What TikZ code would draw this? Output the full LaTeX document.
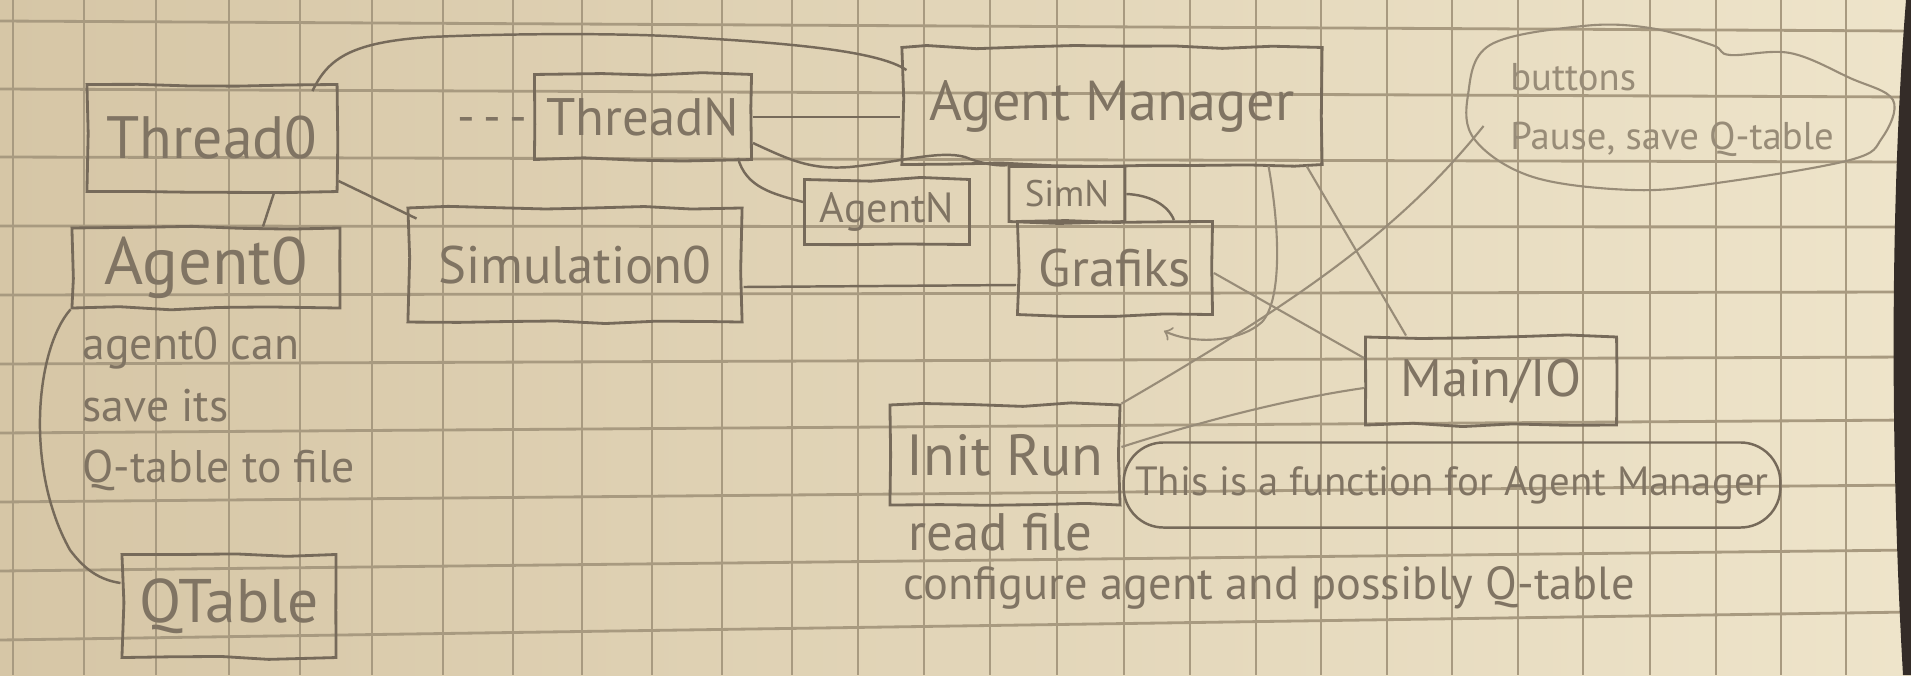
\documentclass[tikz,border=0pt]{standalone}
\usepackage{fontspec}
\setmainfont{PT Sans}
\usetikzlibrary{shapes,arrows,calc,decorations.pathmorphing}

\definecolor{paperL}{RGB}{214,198,166}
\definecolor{paperR}{RGB}{238,228,202}
\definecolor{gridcol}{RGB}{168,154,128}
\definecolor{pencil}{RGB}{118,106,90}
\definecolor{pentext}{RGB}{128,116,99}
\definecolor{faint}{RGB}{152,140,120}
\definecolor{edgecol}{RGB}{52,44,40}

\tikzset{
  box/.style={draw=pencil, line width=0.8pt, decorate,
    decoration={random steps, segment length=14pt, amplitude=0.6pt},
    text=pentext, inner sep=0pt},
  link/.style={draw=pencil, line width=0.7pt},
  faintlink/.style={draw=faint, line width=0.6pt},
  note/.style={text=pentext, align=left, inner sep=0pt},
}

\begin{document}
\begin{tikzpicture}[x=0.01cm, y=-0.01cm]
  \pgfmathsetseed{11}
  % Paper
  \useasboundingbox (0,0) rectangle (1911,675);
  \shade[left color=paperL, right color=paperR] (0,0) rectangle (1911,675);
  \foreach \gx in {13,84,156,229,300,372,443,513,582,652,722,792,858,924,990,1057,1124,1190,1256,1321,1387,1452,1518,1583,1650,1716,1781,1846}
    \draw[gridcol, line width=0.45pt] (\gx,0) -- (\gx,675);
  \foreach \yl/\yr in {21/31,89/97,157/162,226/227,295/292,364/357,433/420,502/485,571/550,640/612}
    \draw[gridcol, line width=0.8pt] (0,\yl) -- (1911,\yr);
  \fill[edgecol] (1906,0) .. controls (1890,200) and (1890,450) .. (1903,675) -- (1911,675) -- (1911,0) -- cycle;

  % Nodes
  \node[box, minimum width=2.5cm, minimum height=1.07cm, font=\fontsize{17}{20}\selectfont] (thread0) at (212,138) {Thread0};
  \node[text=pentext, inner sep=0pt, font=\fontsize{14}{16}\selectfont] (dots) at (492,125) {-\,-\,-};
  \node[box, minimum width=2.17cm, minimum height=0.85cm, font=\fontsize{15}{18}\selectfont] (threadN) at (643,117) {ThreadN};
  \node[box, minimum width=2.68cm, minimum height=0.8cm, font=\fontsize{19}{22}\selectfont] (agent0) at (206,268) {Agent0};
  \node[box, minimum width=3.34cm, minimum height=1.14cm, font=\fontsize{15}{18}\selectfont] (sim0) at (575,265) {Simulation0};
  \node[box, minimum width=4.2cm, minimum height=1.17cm, font=\fontsize{16}{19}\selectfont] (agentmgr) at (1112,106) {Agent Manager};
  \node[box, minimum width=1.65cm, minimum height=0.65cm, font=\fontsize{12}{14}\selectfont] (agentN) at (887,212) {AgentN};
  \node[box, minimum width=1.16cm, minimum height=0.55cm, font=\fontsize{10.5}{12}\selectfont] (simN) at (1067,194) {SimN};
  \node[box, minimum width=1.95cm, minimum height=0.93cm, font=\fontsize{15}{18}\selectfont] (grafiks) at (1115,268) {Grafiks};
  \node[box, minimum width=2.51cm, minimum height=0.88cm, font=\fontsize{15}{18}\selectfont] (mainIO) at (1491,381) {Main/IO};
  \node[box, minimum width=2.3cm, minimum height=1.0cm, font=\fontsize{16.5}{19}\selectfont] (initRun) at (1005,455) {Init Run};
  \node[box, minimum width=2.14cm, minimum height=1.03cm, font=\fontsize{17.5}{20}\selectfont] (qtable) at (229,606) {QTable};
  \node[text=faint, align=left, inner sep=0pt, font=\fontsize{11}{16.5}\selectfont] (buttons) at (1672,110) {buttons\\Pause, save Q-table};
  \draw[faint, line width=0.6pt] plot[smooth cycle, tension=0.6] coordinates {(1490,45) (1583,26) (1650,28) (1712,45) (1730,55) (1790,53) (1850,78) (1893,100) (1882,138) (1850,160) (1717,183) (1633,190) (1533,177) (1475,140) (1468,95)};
  \node[draw=pencil, line width=0.7pt, rounded corners=0.4cm, minimum width=6.56cm, minimum height=0.85cm, text=pentext, font=\fontsize{11.6}{13}\selectfont] (func) at (1452,485) {This is a function for Agent Manager};
  \node[note, anchor=west, font=\fontsize{13}{17.4}\selectfont] (agentnote) at (82,409) {agent0 can\\save its\\Q-table to file};
  \node[note, anchor=west, font=\fontsize{15}{17}\selectfont] (readfile) at (908,532) {read file};
  \node[note, anchor=west, font=\fontsize{13.2}{15}\selectfont] (configure) at (903,588) {configure agent and possibly Q-table};

  % Edges
  \draw[link] ($(thread0.south)+(62,0)$) -- ($(agent0.north)+(57,0)$);
  \draw[link] ($(thread0.south east)+(0,-12)$) -- ($(sim0.north west)+(10,12)$);
  \draw[link] ($(thread0.north east)+(-26,8)$) .. controls (328,58) and (352,42) .. (430,37)
    .. controls (520,33) and (640,33) .. (700,38) .. controls (800,44) and (880,52) .. ($(agentmgr.north west)+(6,24)$);
  \draw[link] (threadN.east) -- (threadN.east -| agentmgr.west);
  \draw[link] ($(threadN.south east)+(-15,-3)$) to[out=-75,in=165] ($(agentN.west)+(0,-10)$);
  \draw[link] ($(threadN.east)+(0,26)$) .. controls (790,160) and (810,170) .. (850,167)
    .. controls (900,162) and (940,150) .. (965,157) .. controls (985,165) and (1000,166) .. (simN.north west);
  \draw[link] (simN.east) .. controls (1150,195) and (1168,205) .. ($(grafiks.north east)+(-40,0)$);
  \draw[link] ($(sim0.east)+(0,22)$) -- ($(grafiks.west)+(0,17)$);
  \draw[faintlink] ($(agentmgr.south east)+(-17,0)$) -- ($(mainIO.north west)+(42,0)$);
  \draw[faintlink, ->] ($(agentmgr.south east)+(-55,0)$) .. controls (1280,230) and (1282,300) .. (1262,322)
    .. controls (1240,342) and (1195,345) .. ($(grafiks.south east)+(-50,15)$);
  \draw[faintlink] ($(grafiks.east)+(0,5)$) -- ($(mainIO.west)+(0,-23)$);
  \draw[faintlink] ($(buttons.west)+(-26,16)$) .. controls (1400,230) and (1300,300) .. (initRun.north east);
  \draw[faintlink] ($(mainIO.west)+(0,7)$) .. controls (1280,400) and (1190,425) .. ($(initRun.east)+(0,-8)$);
  \draw[link] (agent0.south west) .. controls (35,350) and (25,470) .. (70,550)
    .. controls (85,570) and (100,580) .. ($(qtable.west)+(0,-23)$);
\end{tikzpicture}
\end{document}
